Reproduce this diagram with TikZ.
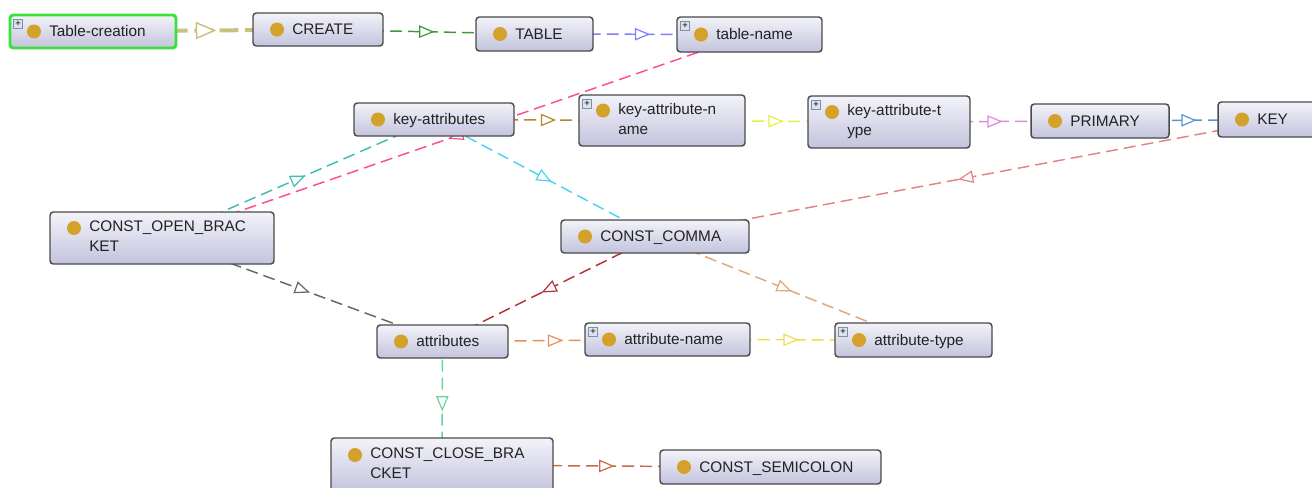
\documentclass[tikz,border=0pt]{standalone}
\usepackage{fontspec}
\newfontfamily\ogfont{Liberation Sans}
\usetikzlibrary{fit,backgrounds,decorations.markings}

% class boxes
\definecolor{ogtop}{HTML}{F3F3FA}
\definecolor{ogbot}{HTML}{C3C3DD}
\definecolor{ogline}{HTML}{4A4A4A}
\definecolor{ogdot}{HTML}{D4A12A}
\definecolor{ogtext}{HTML}{222222}
\definecolor{ogsel}{HTML}{3BE03B}
\definecolor{ogplusfill}{HTML}{DCE3EE}
\definecolor{ogplusline}{HTML}{7F8FA6}
% relation colours
\definecolor{cKhaki}{HTML}{C9C27F}
\definecolor{cGreen}{HTML}{3C9A3C}
\definecolor{cBlue}{HTML}{7F7FFF}
\definecolor{cPink}{HTML}{FF4D8F}
\definecolor{cTeal}{HTML}{3DBDB5}
\definecolor{cBrown}{HTML}{B8862E}
\definecolor{cLime}{HTML}{E2F23C}
\definecolor{cViolet}{HTML}{D98BE0}
\definecolor{cSteel}{HTML}{5A96D2}
\definecolor{cCyan}{HTML}{4DD2F0}
\definecolor{cSalmon}{HTML}{E08585}
\definecolor{cDarkRed}{HTML}{B03535}
\definecolor{cGray}{HTML}{666666}
\definecolor{cTan}{HTML}{E0A878}
\definecolor{cOrange}{HTML}{E8905A}
\definecolor{cYellow}{HTML}{F5DC4A}
\definecolor{cMint}{HTML}{6AD29A}
\definecolor{cRust}{HTML}{C86A4A}

\tikzset{
  obox/.style={rectangle, rounded corners=2.5pt, draw=ogline, line width=1.1pt,
    top color=ogtop, bottom color=ogbot, inner sep=0pt, outer sep=0pt},
  odot/.style={circle, fill=ogdot, minimum size=10.5pt, inner sep=0pt},
  olabel/.style={anchor=west, inner sep=0pt, align=left, text=ogtext,
    font=\ogfont\fontsize{11.5}{15}\selectfont,
    execute at begin node=\strut, execute at end node=\strut},
  oplus/.style={rectangle, draw=ogplusline, fill=ogplusfill, line width=0.6pt,
    minimum size=7pt, inner sep=0pt, anchor=north west,
    font=\ogfont\fontsize{7}{7}\selectfont},
  rel/.style={draw=#1, line width=1.1pt, dash pattern=on 9pt off 4.5pt,
    postaction={decorate},
    decoration={markings, mark=at position 0.5 with {
      \draw[draw=#1, fill=white, solid, line width=0.9pt, line join=miter]
        (-4.9pt,-4.1pt) -- (4.9pt,0pt) -- (-4.9pt,4.1pt) -- cycle;}}},
  relthick/.style={draw=#1, line width=3pt, dash pattern=on 14pt off 5pt,
    postaction={decorate},
    decoration={markings, mark=at position 0.5 with {
      \draw[draw=#1, fill=white, solid, line width=1.1pt, line join=miter]
        (-6.75pt,-5.8pt) -- (6.75pt,0pt) -- (-6.75pt,5.8pt) -- cycle;}}},
}

% box: [extra style]{name}{x1}{y1}{x2}{y2}{label}{dot raise in px}
\newcommand\ogbox[8][]{%
  \node[obox,#1,fit={(#3,#4)(#5,#6)}] (#2) {};
  \node[odot] (#2-dot) at ([xshift=18pt, yshift=#8*0.75pt]#2.west) {};
  \node[olabel] (#2-text) at ([xshift=29.25pt, yshift=-1pt]#2.west) {#7};
}
% expand marker in the upper left corner
\newcommand\ogplus[1]{%
  \node[oplus] (#1-plus) at ([xshift=2.25pt, yshift=-3pt]#1.north west) {+};
}

\begin{document}
\begin{tikzpicture}[x=0.75pt, y=-0.75pt]
\useasboundingbox (0,0) rectangle (1312,487);
\clip (0,0) rectangle (1312,487);

% classes
\ogbox[draw=ogsel, line width=2.2pt]{tc}{10}{15}{176}{48}{Table-creation}{0}
\ogplus{tc}
\ogbox{create}{253}{13}{383}{46}{CREATE}{0}
\ogbox{table}{476}{17}{593}{51}{TABLE}{0}
\ogbox{tname}{677}{17}{822}{52}{table-name}{0}
\ogplus{tname}
\ogbox{keyattrs}{354}{103}{514}{136}{key-attributes}{0}
\ogbox{kaname}{579}{95}{745}{146}{key-attribute-n\\ame}{10}
\ogplus{kaname}
\ogbox{katype}{808}{96}{970}{148}{key-attribute-t\\ype}{10}
\ogplus{katype}
\ogbox{primary}{1031}{104}{1169}{138}{PRIMARY}{0}
\ogbox{key}{1218}{102}{1336}{137}{KEY}{0}
\ogbox{openbr}{50}{212}{274}{264}{CONST\_OPEN\_BRAC\\KET}{10}
\ogbox{comma}{561}{220}{749}{253}{CONST\_COMMA}{0}
\ogbox{attrs}{377}{325}{508}{358}{attributes}{0}
\ogbox{aname}{585}{323}{750}{356}{attribute-name}{0}
\ogplus{aname}
\ogbox{atype}{835}{323}{992}{357}{attribute-type}{0}
\ogplus{atype}
\ogbox{closebr}{331}{438}{553}{492}{CONST\_CLOSE\_BRA\\CKET}{10}
\ogbox{semi}{660}{450}{881}{484}{CONST\_SEMICOLON}{0}

% relations, centre to centre, behind the boxes
\begin{scope}[on background layer]
\draw[relthick=cKhaki] (tc.center) -- (create.center);
\draw[rel=cGreen]   (create.center) -- (table.center);
\draw[rel=cBlue]    (table.center) -- (tname.center);
\draw[rel=cPink]    (tname.center) -- (openbr.center);
\draw[rel=cTeal]    (openbr.center) -- (keyattrs.center);
\draw[rel=cBrown]   (keyattrs.center) -- (kaname.center);
\draw[rel=cLime]    (kaname.center) -- (katype.center);
\draw[rel=cViolet]  (katype.center) -- (primary.center);
\draw[rel=cSteel]   (primary.center) -- (key.center);
\draw[rel=cCyan]    (keyattrs.center) -- (comma.center);
\draw[rel=cSalmon]  (key.center) -- (comma.center);
\draw[rel=cDarkRed] (comma.center) -- (attrs.center);
\draw[rel=cGray]    (openbr.center) -- (attrs.center);
\draw[rel=cTan]     (comma.center) -- (atype.center);
\draw[rel=cOrange]  (attrs.center) -- (aname.center);
\draw[rel=cYellow]  (aname.center) -- (atype.center);
\draw[rel=cMint]    (attrs.center) -- (closebr.center);
\draw[rel=cRust]    (closebr.center) -- (semi.center);
\end{scope}
\end{tikzpicture}
\end{document}
